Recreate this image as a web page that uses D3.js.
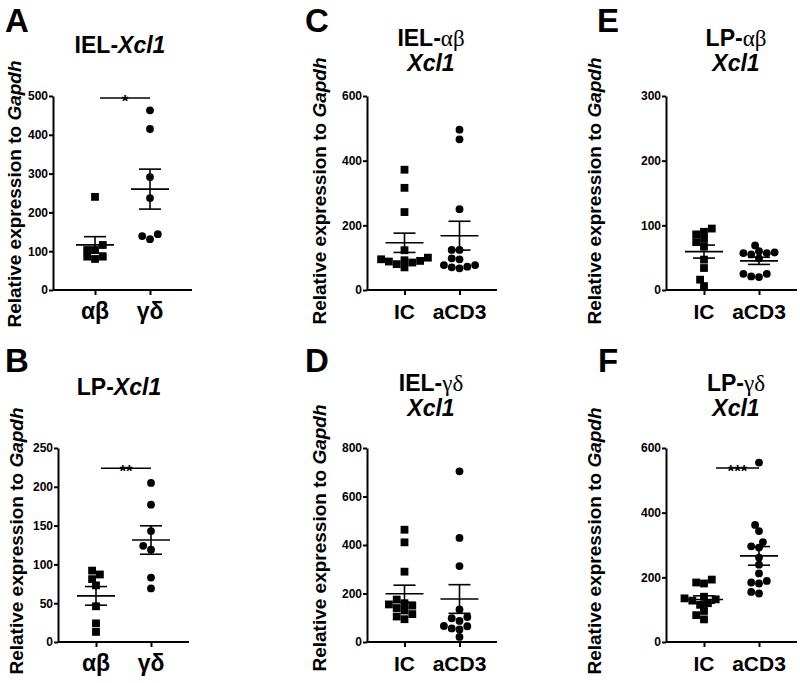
<!DOCTYPE html>
<html><head><meta charset="utf-8">
<script src="https://cdn.jsdelivr.net/npm/d3@7"></script>
<style>
body{margin:0;background:#fff}
svg{display:block}
text{font-family:"Liberation Sans",Arial,sans-serif;font-weight:bold;fill:#000}
</style>
</head><body>
<svg id="c" width="800" height="683"></svg>
<script>
// ---------- data ----------
const catsAB = ["αβ", "γδ"];
const catsTx = ["IC", "aCD3"];

const A_ab   = [240, 116, 103, 103, 86, 80, 86];
const A_gd   = [463, 415, 291, 237, 144, 131, 139];
const B_ab   = [87, 92, 81, 73, 46, 24, 13];
const B_gd   = [205, 177, 143, 124, 119, 83, 69];
const C_ic   = [372, 316, 241, 123, 100, 95, 92, 90, 88, 85, 80, 70];
const C_acd3 = [496, 466, 250, 124, 124, 98, 95, 77, 77, 72, 70, 67];
const D_ic   = [463, 411, 290, 175, 160, 155, 150, 140, 130, 115, 105, 94];
const D_acd3 = [704, 429, 313, 134, 103, 98, 87, 66, 65, 56, 52, 21];
const E_ic   = [95, 90, 86, 79, 74, 67, 47, 34, 16, 6];
const E_acd3 = [69, 60, 58, 57, 57, 55, 49, 25, 25, 21, 20];
const F_ic   = [193, 184, 181, 140, 135, 132, 128, 120, 115, 96, 83, 70];
const F_acd3 = [555, 362, 343, 309, 296, 292, 261, 239, 212, 189, 184, 181, 155, 150];

const ticksA = [0, 100, 200, 300, 400, 500];
const ticksB = [0, 50, 100, 150, 200, 250];
const ticksC = [0, 200, 400, 600];
const ticksD = [0, 200, 400, 600, 800];
const ticksE = [0, 100, 200, 300];
const ticksF = [0, 200, 400, 600];

const sigA = {label: "*", value: 495};
const sigB = {label: "**", value: 224};
const sigF = {label: "***", value: 538};

// ---------- layout ----------
const G = s => ({t: s, greek: true});
const I = s => ({t: s, it: true});
const N = s => ({t: s});

const panels = [
  {letter:"A", lx:5, ly:32, x0:53, x1:192, yTop:96, yBot:290, ticks:ticksA, cats:catsAB, greek:true,
   groups:[A_ab, A_gd], title:[[N("IEL-"), I("Xcl1")]], tx:120, tys:[53], labX:21, labY:194, sig:sigA, sigOff:5},
  {letter:"B", lx:5, ly:372, x0:58, x1:189, yTop:448, yBot:642, ticks:ticksB, cats:catsAB, greek:true,
   groups:[B_ab, B_gd], title:[[N("LP-"), I("Xcl1")]], tx:119, tys:[395], labX:23, labY:541, sig:sigB, sigOff:5},
  {letter:"C", lx:305, ly:32, x0:367, x1:497, yTop:96, yBot:290, ticks:ticksC, cats:catsTx, greek:false,
   groups:[C_ic, C_acd3], title:[[N("IEL-"), G("αβ")], [I("Xcl1")]], tx:431, tys:[46, 71], labX:326, labY:191},
  {letter:"D", lx:305, ly:372, x0:367, x1:497, yTop:448, yBot:642, ticks:ticksD, cats:catsTx, greek:false,
   groups:[D_ic, D_acd3], title:[[N("IEL-"), G("γδ")], [I("Xcl1")]], tx:431, tys:[391, 416], labX:326, labY:538},
  {letter:"E", lx:597, ly:32, x0:666, x1:797, yTop:96, yBot:290, ticks:ticksE, cats:catsTx, greek:false,
   groups:[E_ic, E_acd3], title:[[N("LP-"), G("αβ")], [I("Xcl1")]], tx:736, tys:[46, 71], labX:601, labY:191},
  {letter:"F", lx:598, ly:372, x0:666, x1:797, yTop:448, yBot:642, ticks:ticksF, cats:catsTx, greek:false,
   groups:[F_ic, F_acd3], title:[[N("LP-"), G("γδ")], [I("Xcl1")]], tx:736, tys:[391, 416], labX:601, labY:541, sig:sigF, sigOff:12}
];

const svg = d3.select("#c");
const MS = 7.8; // marker size

function swarm(vals, y, cx, s) {
  const order = vals.map((v, i) => i).sort((a, b) => vals[a] - vals[b]);
  const placed = [], out = new Array(vals.length);
  const step = s * 0.5, minD = s * 0.84;
  for (const i of order) {
    const py = y(vals[i]);
    for (let k = 0; k < 80; k++) {
      const off = k === 0 ? 0 : (k % 2 ? -1 : 1) * Math.ceil(k / 2) * step;
      const px = cx + off;
      if (placed.every(p => Math.hypot(p[0] - px, p[1] - py) >= minD)) {
        placed.push([px, py]); out[i] = [px, py]; break;
      }
    }
  }
  return out;
}

function addSegments(textSel, segs) {
  segs.forEach(s => {
    const ts = textSel.append("tspan").text(s.t);
    if (s.it) ts.attr("font-style", "italic");
    if (s.greek) ts.attr("font-family", "'Liberation Serif','DejaVu Serif',serif").attr("font-weight", "normal");
  });
}

panels.forEach(p => {
  const g = svg.append("g");
  const ymax = p.ticks[p.ticks.length - 1];
  const y = d3.scaleLinear().domain([0, ymax]).range([p.yBot, p.yTop]);
  const w = p.x1 - p.x0;
  const pad = (w / 55 - 1) / 2;
  const x = d3.scalePoint().domain(p.cats).range([p.x0, p.x1]).padding(pad);

  // letter
  g.append("text").attr("x", p.lx).attr("y", p.ly).attr("font-size", 33).text(p.letter);

  // title
  p.title.forEach((line, i) => {
    const t = g.append("text").attr("x", p.tx).attr("y", p.tys[i]).attr("text-anchor", "middle").attr("font-size", 23);
    addSegments(t, line);
  });

  // y axis label
  const yl = g.append("text").attr("transform", `translate(${p.labX},${p.labY}) rotate(-90)`)
    .attr("text-anchor", "middle").attr("font-size", 19);
  addSegments(yl, [N("Relative expression to "), I("Gapdh")]);

  // y axis
  const ya = g.append("g").attr("transform", `translate(${p.x0},0)`)
    .call(d3.axisLeft(y).tickValues(p.ticks).tickSize(4).tickSizeOuter(0).tickPadding(1).tickFormat(d3.format("d")));
  ya.selectAll("path,line").attr("stroke", "#000").attr("stroke-width", 2);
  ya.selectAll("text").attr("font-size", 12).attr("font-family", "'Liberation Sans',Arial,sans-serif").attr("font-weight", "bold").attr("fill", "#000");

  // x axis
  const xa = g.append("g").attr("transform", `translate(0,${p.yBot})`)
    .call(d3.axisBottom(x).tickSize(5).tickSizeOuter(0).tickFormat(""));
  xa.select("path").attr("d", `M${p.x0},0H${p.x1}`);
  xa.selectAll("path,line").attr("stroke", "#000").attr("stroke-width", 2);

  p.cats.forEach(c => {
    const t = g.append("text").attr("x", x(c)).attr("y", p.yBot + 29).attr("text-anchor", "middle").attr("font-size", p.greek ? 23 : 21);
    if (p.greek) t.attr("font-family", "'Liberation Serif','DejaVu Serif',serif").attr("font-weight", "normal");
    t.text(c);
  });

  // points + mean/SEM
  p.groups.forEach((vals, gi) => {
    const cx = x(p.cats[gi]);
    const pos = swarm(vals, y, cx, MS);
    if (gi === 0) {
      g.selectAll(null).data(pos).join("rect")
        .attr("x", d => d[0] - MS / 2).attr("y", d => d[1] - MS / 2)
        .attr("width", MS).attr("height", MS).attr("fill", "#000");
    } else {
      g.selectAll(null).data(pos).join("circle")
        .attr("cx", d => d[0]).attr("cy", d => d[1]).attr("r", MS / 2).attr("fill", "#000");
    }
    const m = d3.mean(vals);
    const sem = d3.deviation(vals) / Math.sqrt(vals.length);
    const eg = g.append("g").attr("stroke", "#000").attr("stroke-width", 1.6);
    eg.append("line").attr("x1", cx - 19).attr("x2", cx + 19).attr("y1", y(m)).attr("y2", y(m));
    eg.append("line").attr("x1", cx).attr("x2", cx).attr("y1", y(m - sem)).attr("y2", y(m + sem));
    eg.append("line").attr("x1", cx - 11).attr("x2", cx + 11).attr("y1", y(m + sem)).attr("y2", y(m + sem));
    eg.append("line").attr("x1", cx - 11).attr("x2", cx + 11).attr("y1", y(m - sem)).attr("y2", y(m - sem));
  });

  // significance
  if (p.sig) {
    const sx1 = x(p.cats[0]) + p.sigOff, sx2 = x(p.cats[1]);
    const sy = y(p.sig.value);
    g.append("line").attr("x1", sx1).attr("x2", sx2).attr("y1", sy).attr("y2", sy).attr("stroke", "#000").attr("stroke-width", 1.6);
    g.append("text").attr("x", (sx1 + sx2) / 2).attr("y", sy + 9).attr("text-anchor", "middle")
      .attr("font-size", 17).attr("font-weight", "normal").text(p.sig.label);
  }
});
</script>
</body></html>
